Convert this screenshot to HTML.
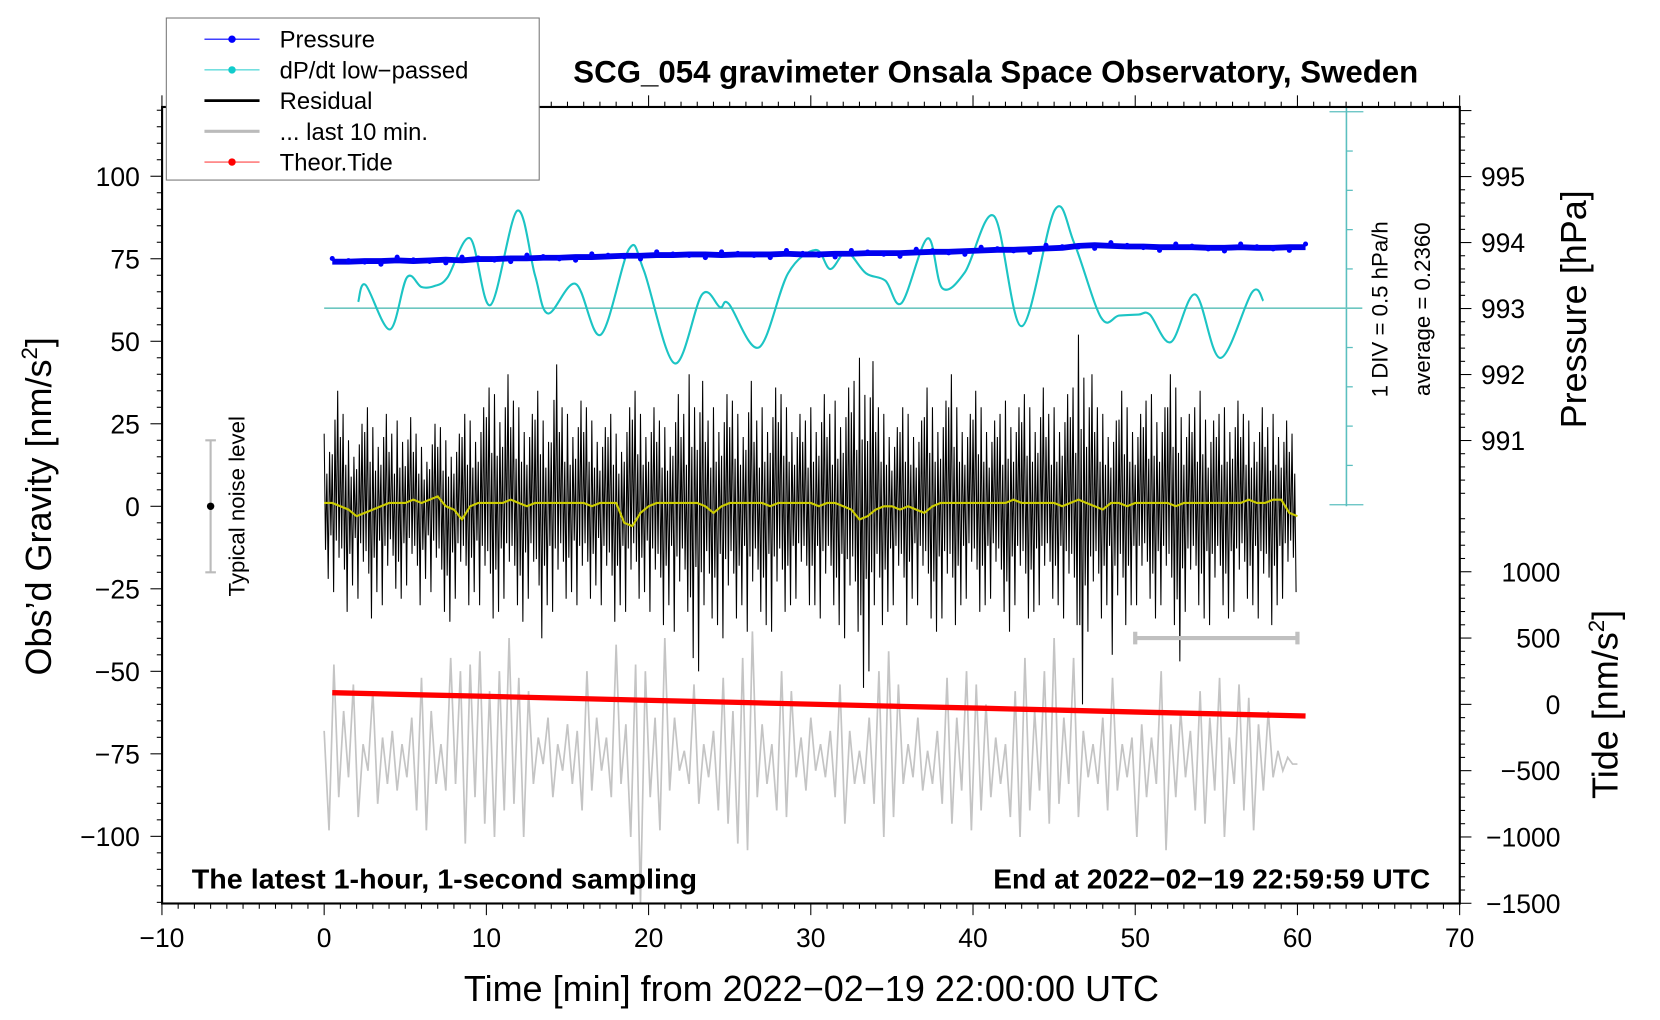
<!DOCTYPE html>
<html><head><meta charset="utf-8"><title>SCG_054 gravimeter</title>
<style>html,body{margin:0;padding:0;background:#fff;}svg{display:block;font-family:"Liberation Sans",Arial,sans-serif;}</style>
</head><body>
<svg id="chart" width="1660" height="1020" viewBox="0 0 1567 963" preserveAspectRatio="none" xmlns="http://www.w3.org/2000/svg">
<rect x="0" y="0" width="1567" height="963" fill="#fff"/>
<g id="plot"></g>
<g id="axes"></g>
<g>
 <rect x="157" y="17" width="352" height="153" fill="#fff" stroke="#777" stroke-width="1"/>
 <g><line x1="193" y1="37" x2="245" y2="37" stroke="#00f" stroke-width="1"/><circle cx="219" cy="37" r="3.5" fill="#00f"/><text x="264" y="45" font-size="22.5">Pressure</text></g>
 <g><line x1="193" y1="66" x2="245" y2="66" stroke="#2cc" stroke-width="1"/><circle cx="219" cy="66" r="3.5" fill="#1cc"/><text x="264" y="74" font-size="22.5">dP/dt low−passed</text></g>
 <g><line x1="193" y1="95" x2="245" y2="95" stroke="#000" stroke-width="2.5"/><text x="264" y="103" font-size="22.5">Residual</text></g>
 <g><line x1="193" y1="124" x2="245" y2="124" stroke="#bbb" stroke-width="3"/><text x="264" y="132" font-size="22.5">... last 10 min.</text></g>
 <g><line x1="193" y1="153" x2="245" y2="153" stroke="#f44" stroke-width="1"/><circle cx="219" cy="153" r="3.5" fill="#f00"/><text x="264" y="161" font-size="22.5">Theor.Tide</text></g>
</g>
<text x="940" y="78" font-size="29.5" font-weight="bold" text-anchor="middle">SCG_054 gravimeter Onsala Space Observatory, Sweden</text>
<text x="181" y="839" font-size="26.5" font-weight="bold" textLength="477" lengthAdjust="spacingAndGlyphs">The latest 1-hour, 1-second sampling</text>
<text x="1350" y="839" font-size="26.5" font-weight="bold" text-anchor="end">End at 2022−02−19 22:59:59 UTC</text>
<text x="766" y="945" font-size="34" text-anchor="middle">Time [min] from 2022−02−19 22:00:00 UTC</text>
<text transform="translate(48,478) rotate(-90)" font-size="34" text-anchor="middle">Obs’d Gravity [nm/s<tspan font-size="21" dy="-13">2</tspan><tspan dy="13">]</tspan></text>
<text transform="translate(1497,292) rotate(-90)" font-size="34" text-anchor="middle">Pressure [hPa]</text>
<text transform="translate(1527,665) rotate(-90)" font-size="34" text-anchor="middle">Tide [nm/s<tspan font-size="21" dy="-13">2</tspan><tspan dy="13">]</tspan></text>
<text transform="translate(1310,292) rotate(-90)" font-size="21" text-anchor="middle">1 DIV = 0.5 hPa/h</text>
<text transform="translate(1350,292) rotate(-90)" font-size="21" text-anchor="middle">average = 0.2360</text>
<text transform="translate(231,478) rotate(-90)" font-size="21" text-anchor="middle">Typical noise level</text>
</svg>
<script>
// ---- data ----
const xTicks = [-10,0,10,20,30,40,50,60,70];
const gravTicks = [100,75,50,25,0,-25,-50,-75,-100];
const pressTicks = [995,994,993,992,991];
const tideTicks = [1000,500,0,-500,-1000,-1500];
const pressure = [993.71,993.71,993.72,993.72,993.73,993.72,993.73,993.74,993.73,993.75,
993.75,993.76,993.76,993.77,993.77,993.78,993.78,993.79,993.80,993.80,
993.81,993.81,993.82,993.82,993.81,993.82,993.82,993.82,993.83,993.82,
993.82,993.83,993.83,993.84,993.84,993.84,993.85,993.86,993.86,993.87,
993.88,993.89,993.89,993.90,993.91,993.92,993.95,993.96,993.95,993.94,
993.94,993.93,993.93,993.93,993.92,993.92,993.93,993.92,993.92,993.93,993.93];
const dpdtTime = [2.1,2.55,4.05,5.1,6.0,6.8,7.6,9.0,10.25,11.9,13.0,13.8,15.5,17.05,18.8,19.7,21.6,23.3,24.4,24.95,26.8,28.6,30.3,31.2,32.2,33.4,34.6,35.6,37.2,38.1,39.5,41.3,43.0,45.05,46.25,47.9,49.0,50.2,50.9,52.2,53.7,55.25,57.2,57.9];
const dpdt = [0.317,0.533,-0.034,0.627,0.506,0.519,0.627,1.125,0.276,1.476,0.654,0.169,0.546,-0.101,0.991,0.721,-0.465,0.411,0.249,0.290,-0.263,0.681,0.977,0.735,0.950,0.681,0.586,0.303,1.125,0.492,0.694,1.408,0.007,1.489,1.058,0.115,0.142,0.155,0.155,-0.195,0.411,-0.397,0.438,0.330];
const dpdtAverage = 0.236;
const resHi = [22,35,28,20,25,30,24,28,22,26, 27,22,18,25,24,20,22,28,26,30, 36,34,40,32,30,28,35,26,43,30,
28,32,30,26,24,28,22,30,35,28, 30,26,24,34,28,40,38,26,30,34, 32,28,38,26,30,36,34,30,28,26,
30,34,28,32,36,38,45,44,30,28, 24,30,28,26,36,30,32,40,30,28, 35,30,26,28,32,30,34,30,36,28,
30,34,36,52,40,30,28,26,35,30, 28,32,34,30,40,36,28,30,35,26, 28,30,32,28,26,30,24,28,26,22];
const resLo = [-22,-26,-32,-24,-28,-34,-26,-30,-25,-28, -24,-30,-22,-26,-32,-35,-28,-30,-26,-30, -34,-32,-28,-30,-35,-28,-40,-30,-32,-28,
-26,-30,-28,-24,-30,-35,-30,-32,-28,-26, -32,-36,-30,-38,-32,-46,-50,-34,-36,-40, -34,-30,-38,-32,-36,-38,-32,-30,-28,-30,
-30,-34,-30,-36,-40,-38,-55,-50,-36,-32, -30,-36,-28,-30,-34,-38,-34,-36,-30,-28, -32,-30,-28,-32,-38,-30,-34,-32,-30,-28,
-30,-34,-36,-60,-38,-34,-30,-45,-36,-30, -30,-28,-34,-30,-36,-47,-32,-30,-34,-36, -30,-34,-32,-28,-30,-34,-36,-30,-28,-26];
const smoothRes = [1,1,0,-1,-3,-2,-1,0,1,1, 1,2,1,2,3,0,-1,-4,0,1, 1,1,1,2,1,0,1,1,1,1, 1,1,1,0,1,1,1,-5,-6,-2,
0,1,1,1,1,1,1,0,-2,0, 1,1,1,1,1,0,1,1,1,1, 1,0,1,1,0,-1,-4,-3,-1,0, 0,-1,0,-1,-2,0,1,1,1,1,
1,1,1,1,1,2,1,1,1,1, 1,0,1,2,1,0,-1,1,1,0, 1,1,1,1,1,0,1,1,1,1, 1,1,1,1,2,1,1,2,2,-2,-3];
const tideTime = [0.5,5.5,10.5,15.5,20.5,25.5,30.5,35.5,40.5,45.5,50.5,55.5,60.5];
const tide = [88,73,59,44,29,15,0,-15,-29,-44,-59,-73,-88];
const last10 = [-200,-950,300,-700,-50,-550,150,-850,-300,-500,100,-750,-250,-600,-200,-650,-300,-550,-100,-800,
200,-950,-50,-600,-300,-650,350,-600,250,-1050,300,-700,400,-900,100,-1000,250,-800,500,-750,
200,-1000,100,-600,-250,-450,-100,-700,-300,-500,-150,-600,-200,-800,250,-650,-100,-500,-250,-700,
450,-600,-150,-1000,300,-1500,250,-700,-100,-950,500,-650,-100,-500,-350,-600,150,-750,-300,-550,
-200,-800,200,-900,-50,-1050,350,-1100,550,-700,-150,-600,-300,-800,250,-850,100,-550,-250,-650,
-100,-500,-300,-550,-200,-700,150,-900,-200,-600,-350,-600,-100,-750,250,-1000,400,-850,150,-600,
-300,-550,-100,-650,-350,-600,-200,-750,200,-900,-100,-650,250,-950,150,-800,0,-700,-250,-600,
-300,-850,100,-1000,350,-800,-50,-650,250,-900,500,-750,-100,-600,350,-850,-200,-550,-300,-600,
-100,-800,200,-650,-300,-550,-250,-1000,-150,-700,-250,-600,250,-1100,-150,-700,-50,-550,-200,-800,
100,-900,-100,-650,200,-1000,-250,-600,150,-800,50,-950,-150,-650,-50,-550,-350,-500,-400,-450,-450];
const noiseLevel = 20;
const noiseTime = -7;
const last10Start = 50, last10End = 60, last10BarTide = 500;

// ---- scales ----
const X = t => 306 + t * 15.3125;
const YL = v => 478 - v * 3.116;
const YP = p => 229 - (p - 994) * 62.3;
const YT = v => 665 - v * 0.1252;
const YC = v => 291 - (v - dpdtAverage) * 74.2;
const NS = 'http://www.w3.org/2000/svg';
function mk(tag, attrs, parent) { const e = document.createElementNS(NS, tag); for (const k in attrs) e.setAttribute(k, attrs[k]); parent.appendChild(e); return e; }
const plot = document.getElementById('plot');
const axes = document.getElementById('axes');

// dP/dt axis (cyan)
let el = mk('line', {x1: 1271, y1: 101, x2: 1271, y2: 478, stroke: '#5bbfbf', 'stroke-width': 1.5}, plot);


for (let k = -5; k <= 5; k++) {
  const y = YC(dpdtAverage + k * 0.5);
  const w = (k === -5 || k === 5) ? 16 : 6;
  mk('line', {x1: 1271 - (w > 6 ? 16 : 0), y1: y, x2: 1271 + w, y2: y, stroke: '#5bbfbf', 'stroke-width': 1.2}, plot);
}
el = mk('line', {x1: X(0), y1: YC(dpdtAverage), x2: 1286, y2: YC(dpdtAverage), stroke: '#6cc6c0', 'stroke-width': 1.5}, plot);



// gray last 10 min trace (tide axis)
el = mk('polyline', {points: last10.map((v, i) => X(i * 0.3) + ',' + YT(v)).join(' '), fill: 'none', stroke: '#c4c4c4', 'stroke-width': 1.6}, plot);



// residual
let pts = [];
const pat = [[1, 'h'], [0.6, 'l'], [0.45, 'h'], [1, 'l'], [0.75, 'h'], [0.4, 'l']];
resHi.forEach((h, b) => {
  const lo = resLo[b];
  pat.forEach((p, k) => {
    const kk = (k + (b % 3) * 2) % pat.length;
    const q = pat[kk];
    const v = q[1] === 'h' ? h * q[0] : lo * q[0];
    pts.push(X(b * 0.5 + k * 0.5 / pat.length) + ',' + YL(v));
  });
});
el = mk('polyline', {points: pts.join(' '), fill: 'none', stroke: '#000', 'stroke-width': 1}, plot);



// smoothed residual (yellow)
el = mk('polyline', {points: smoothRes.map((v, i) => X(i * 0.5) + ',' + YL(v)).join(' '), fill: 'none', stroke: '#cccc00', 'stroke-width': 2}, plot);



// dP/dt curve
function smoothPath(xs, ys) {
  let d = 'M' + xs[0] + ',' + ys[0];
  for (let i = 0; i < xs.length - 1; i++) {
    const x0 = xs[Math.max(0, i - 1)], y0 = ys[Math.max(0, i - 1)];
    const x3 = xs[Math.min(xs.length - 1, i + 2)], y3 = ys[Math.min(xs.length - 1, i + 2)];
    const c1x = xs[i] + (xs[i + 1] - x0) / 6, c1y = ys[i] + (ys[i + 1] - y0) / 6;
    const c2x = xs[i + 1] - (x3 - xs[i]) / 6, c2y = ys[i + 1] - (y3 - ys[i]) / 6;
    d += ' C' + c1x + ',' + c1y + ' ' + c2x + ',' + c2y + ' ' + xs[i + 1] + ',' + ys[i + 1];
  }
  return d;
}
el = mk('path', {d: smoothPath(dpdtTime.map(X), dpdt.map(YC)), fill: 'none', stroke: '#1cc4c4', 'stroke-width': 2}, plot);



// pressure band
el = mk('polyline', {points: pressure.map((v, i) => X(0.5 + i) + ',' + YP(v)).join(' '), fill: 'none', stroke: '#0000ee', 'stroke-width': 5.5, 'stroke-linejoin': 'round'}, plot);


pressure.forEach((v, i) => {
  const d = mk('circle', {cx: X(0.5 + i), cy: YP(v) + ((i % 4) - 1.5) * 2, r: 2.4, fill: '#00f'}, plot);
  
  
});

// tide
el = mk('polyline', {points: tide.map((v, i) => X(tideTime[i]) + ',' + YT(v)).join(' '), fill: 'none', stroke: '#f00', 'stroke-width': 5}, plot);



// last 10 min bar
const by = YT(last10BarTide);
el = mk('path', {d: 'M' + X(last10Start) + ',' + by + 'H' + X(last10End) + 'M' + X(last10Start) + ',' + (by - 6) + 'V' + (by + 6) + 'M' + X(last10End) + ',' + (by - 6) + 'V' + (by + 6), stroke: '#c0c0c0', 'stroke-width': 4, fill: 'none'}, plot);



// noise level bar
const nx = X(noiseTime);
el = mk('path', {d: 'M' + nx + ',' + YL(noiseLevel) + 'V' + YL(-noiseLevel) + 'M' + (nx - 5) + ',' + YL(noiseLevel) + 'h10M' + (nx - 5) + ',' + YL(-noiseLevel) + 'h10', stroke: '#bbb', 'stroke-width': 2, fill: 'none'}, plot);


mk('circle', {cx: nx, cy: YL(0), r: 3.5, fill: '#000'}, plot);

// frame
el = mk('rect', {x: 153, y: 101, width: 1225, height: 752, fill: 'none', stroke: '#000', 'stroke-width': 2}, axes);



// x ticks
for (let t = -10; t <= 70; t++) {
  const major = t % 10 === 0;
  const len = major ? 11 : 5;
  mk('line', {x1: X(t), y1: 853, x2: X(t), y2: 853 + len, stroke: '#000', 'stroke-width': 1}, axes);
  mk('line', {x1: X(t), y1: 101, x2: X(t), y2: 101 - len, stroke: '#000', 'stroke-width': 1}, axes);
}
xTicks.forEach(t => {
  const tx = mk('text', {x: X(t), y: 894, 'font-size': 25, 'text-anchor': 'middle'}, axes);
  tx.textContent = String(t).replace('-', '−');
  
  
});
// left ticks
for (let v = -120; v <= 120; v += 5) {
  const major = v % 25 === 0;
  mk('line', {x1: 153 - (major ? 11 : 5), y1: YL(v), x2: 153, y2: YL(v), stroke: '#000', 'stroke-width': 1}, axes);
}
gravTicks.forEach(v => {
  const tx = mk('text', {x: 132, y: YL(v) + 9, 'font-size': 25, 'text-anchor': 'end'}, axes);
  tx.textContent = String(v).replace('-', '−');
  
  
});
// right ticks: pressure
for (let k = 0; k <= 30; k++) {
  const p = 996 - k * 0.2;
  const y = YP(p);
  if (y < 101 || y > 478) continue;
  const major = k % 5 === 0;
  mk('line', {x1: 1378, y1: y, x2: 1378 + (major ? 11 : 5), y2: y, stroke: '#000', 'stroke-width': 1}, axes);
}
pressTicks.forEach(p => {
  const tx = mk('text', {x: 1398, y: YP(p) + 9, 'font-size': 25}, axes);
  tx.textContent = String(p);
  
  
});
// right ticks: tide
for (let v = -1500; v <= 1500; v += 100) {
  const y = YT(v);
  if (y < 478 || y > 853) continue;
  const major = v % 500 === 0;
  mk('line', {x1: 1378, y1: y, x2: 1378 + (major ? 11 : 5), y2: y, stroke: '#000', 'stroke-width': 1}, axes);
}
tideTicks.forEach(v => {
  const tx = mk('text', {x: 1473, y: YT(v) + 9, 'font-size': 25, 'text-anchor': 'end'}, axes);
  tx.textContent = String(v).replace('-', '−');
  
  
});
</script>
</body></html>
